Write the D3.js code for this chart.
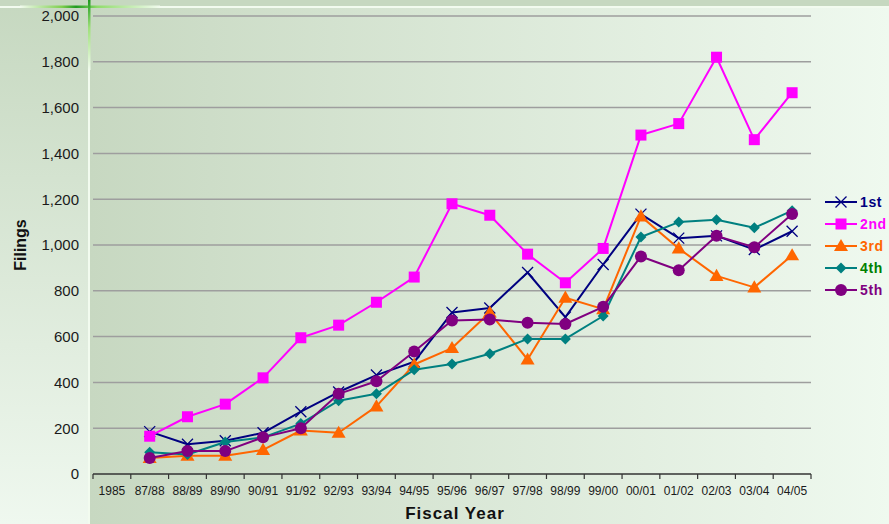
<!DOCTYPE html>
<html>
<head>
<meta charset="utf-8">
<script src="https://cdn.jsdelivr.net/npm/d3@7/dist/d3.min.js"></script>
<style>
  html, body { margin: 0; padding: 0; background: #eef8ee; }
  svg { display: block; font-family: Arial, "Liberation Sans", sans-serif; }
</style>
</head>
<body>
<svg id="chart" width="889" height="524"></svg>
<script>
// Fiscal years on the category axis (1985 has no filings recorded)
const years = ["1985", "87/88", "88/89", "89/90", "90/91", "91/92", "92/93", "93/94", "94/95",
  "95/96", "96/97", "97/98", "98/99", "99/00", "00/01", "01/02", "02/03", "03/04", "04/05"];

// Filings per circuit, one value per fiscal year
const first  = [null, 185, 130, 145, 180, 272, 358, 432, 490, 705, 725, 880, 685, 915, 1135, 1030, 1040, 980, 1060];
const second = [null, 165, 250, 305, 420, 595, 650, 750, 860, 1180, 1130, 960, 835, 985, 1480, 1530, 1820, 1460, 1665];
const third  = [null, 70, 80, 80, 105, 190, 180, 295, 478, 550, 705, 500, 770, 720, 1125, 985, 865, 815, 955];
const fourth = [null, 95, 85, 140, 160, 220, 320, 350, 455, 480, 525, 590, 590, 690, 1035, 1100, 1110, 1075, 1150];
const fifth  = [null, 70, 100, 100, 160, 200, 350, 405, 535, 670, 675, 660, 655, 730, 950, 890, 1040, 990, 1135];

const yTicks = [0, 200, 400, 600, 800, 1000, 1200, 1400, 1600, 1800, 2000];

const series = [
  { name: "1st", values: first,  color: "#000080", text: "#000080", marker: "x" },
  { name: "2nd", values: second, color: "#ff00ff", text: "#ff00ff", marker: "square" },
  { name: "3rd", values: third,  color: "#ff6600", text: "#ff6600", marker: "triangle" },
  { name: "4th", values: fourth, color: "#008080", text: "#008000", marker: "diamond" },
  { name: "5th", values: fifth,  color: "#800080", text: "#800080", marker: "circle" }
];

const W = 889, H = 524;
const svg = d3.select("#chart");
const defs = svg.append("defs");

// Backgrounds: vertical wash on the label strip, horizontal wash behind the plot
const gv = defs.append("linearGradient").attr("id", "stripGrad")
  .attr("x1", 0).attr("y1", 0).attr("x2", 0).attr("y2", 1);
gv.append("stop").attr("offset", "0%").attr("stop-color", "#c6d8c0");
gv.append("stop").attr("offset", "100%").attr("stop-color", "#eff8ef");

const gh = defs.append("linearGradient").attr("id", "plotGrad")
  .attr("x1", 0).attr("y1", 0).attr("x2", 1).attr("y2", 0);
gh.append("stop").attr("offset", "0%").attr("stop-color", "#c7d8c1");
gh.append("stop").attr("offset", "100%").attr("stop-color", "#eff9ef");

const gLineH = defs.append("linearGradient").attr("id", "glowH")
  .attr("x1", 0).attr("y1", 0).attr("x2", 1).attr("y2", 0);
gLineH.append("stop").attr("offset", "0%").attr("stop-color", "#f2fbef");
gLineH.append("stop").attr("offset", "30%").attr("stop-color", "#7fcf50");
gLineH.append("stop").attr("offset", "40%").attr("stop-color", "#1f9a1f");
gLineH.append("stop").attr("offset", "55%").attr("stop-color", "#8fdc6a");
gLineH.append("stop").attr("offset", "100%").attr("stop-color", "#f2fbef");

const gLineV = defs.append("linearGradient").attr("id", "glowV")
  .attr("x1", 0).attr("y1", 0).attr("x2", 0).attr("y2", 1);
gLineV.append("stop").attr("offset", "0%").attr("stop-color", "#1f9a1f");
gLineV.append("stop").attr("offset", "40%").attr("stop-color", "#9fe07a");
gLineV.append("stop").attr("offset", "100%").attr("stop-color", "#f2fbef");

svg.append("rect").attr("x", 0).attr("y", 0).attr("width", 89).attr("height", H).attr("fill", "url(#stripGrad)");
svg.append("rect").attr("x", 89).attr("y", 0).attr("width", W - 89).attr("height", H).attr("fill", "url(#plotGrad)");
svg.append("rect").attr("x", 0).attr("y", 0).attr("width", W).attr("height", 6).attr("fill", "#c6d8c0");

// Thin light frame lines with the green corner highlight
svg.append("rect").attr("x", 0).attr("y", 6).attr("width", W).attr("height", 2).attr("fill", "#f2fbef");
svg.append("rect").attr("x", 88).attr("y", 0).attr("width", 2).attr("height", H).attr("fill", "#f2fbef");
svg.append("rect").attr("x", 20).attr("y", 5.5).attr("width", 140).attr("height", 2.5).attr("fill", "url(#glowH)");
svg.append("rect").attr("x", 88).attr("y", 0).attr("width", 2.5).attr("height", 70).attr("fill", "url(#glowV)");

// Scales
const x = d3.scaleBand().domain(years).range([93, 811]).paddingInner(0).paddingOuter(0);
const y = d3.scaleLinear().domain([0, 2000]).range([474, 16]);
const cx = d => x(d) + x.bandwidth() / 2;

// Horizontal gridlines
svg.append("g").selectAll("line").data(yTicks.filter(t => t > 0)).join("line")
  .attr("x1", 93).attr("x2", 811)
  .attr("y1", d => y(d)).attr("y2", d => y(d))
  .attr("stroke", "#9e9e9e").attr("stroke-width", 1.5);

// Y tick labels
svg.append("g").selectAll("text").data(yTicks).join("text")
  .attr("x", 79).attr("y", d => y(d)).attr("dy", "0.36em")
  .attr("text-anchor", "end").attr("font-size", 15).attr("fill", "#1a1a1a")
  .text(d => d3.format(",")(d));

// X axis: baseline, boundary ticks and category labels
const xAxis = svg.append("g");
xAxis.append("line").attr("x1", 93).attr("x2", 811).attr("y1", y(0)).attr("y2", y(0))
  .attr("stroke", "#333").attr("stroke-width", 1.5);
const boundaries = years.map(d => x(d)).concat([x(years[years.length - 1]) + x.bandwidth()]);
xAxis.selectAll("line.tick").data(boundaries).join("line").attr("class", "tick")
  .attr("x1", d => d).attr("x2", d => d).attr("y1", y(0)).attr("y2", y(0) + 5)
  .attr("stroke", "#333").attr("stroke-width", 1.2);
xAxis.selectAll("text").data(years).join("text")
  .attr("x", d => cx(d)).attr("y", 495)
  .attr("text-anchor", "middle").attr("font-size", 12).attr("fill", "#1a1a1a")
  .text(d => d);

// Axis titles
svg.append("text").attr("x", 455).attr("y", 519).attr("text-anchor", "middle")
  .attr("font-size", 17).attr("font-weight", "bold").attr("letter-spacing", 1).attr("fill", "#111")
  .text("Fiscal Year");
svg.append("text").attr("transform", "translate(26,245) rotate(-90)").attr("text-anchor", "middle")
  .attr("font-size", 16).attr("font-weight", "bold").attr("fill", "#111")
  .text("Filings");

// Marker drawing helper
function drawMarker(g, type, color, px, py) {
  if (type === "x") {
    const s = 5.5;
    g.append("path").attr("d", `M${px - s},${py - s}L${px + s},${py + s}M${px - s},${py + s}L${px + s},${py - s}`)
      .attr("stroke", color).attr("stroke-width", 1.3).attr("fill", "none");
  } else if (type === "square") {
    g.append("rect").attr("x", px - 5.5).attr("y", py - 5.5).attr("width", 11).attr("height", 11).attr("fill", color);
  } else if (type === "triangle") {
    g.append("path").attr("d", d3.symbol(d3.symbolTriangle, 85)()).attr("transform", `translate(${px},${py + 1})`).attr("fill", color);
  } else if (type === "diamond") {
    g.append("path").attr("d", `M${px},${py - 5.5}L${px + 5.5},${py}L${px},${py + 5.5}L${px - 5.5},${py}Z`).attr("fill", color);
  } else if (type === "circle") {
    g.append("circle").attr("cx", px).attr("cy", py).attr("r", 6).attr("fill", color);
  }
}

// Series lines and markers
const line = d3.line().defined(d => d.v !== null).x(d => cx(d.k)).y(d => y(d.v));
series.forEach(s => {
  const pts = years.map((k, i) => ({ k, v: s.values[i] }));
  const g = svg.append("g");
  g.append("path").datum(pts).attr("d", line)
    .attr("fill", "none").attr("stroke", s.color).attr("stroke-width", 2).attr("stroke-linejoin", "round");
  pts.filter(p => p.v !== null).forEach(p => drawMarker(g, s.marker, s.color, cx(p.k), y(p.v)));
});

// Legend
const legend = svg.append("g");
series.forEach((s, i) => {
  const ly = 202 + i * 22;
  legend.append("line").attr("x1", 825).attr("x2", 857).attr("y1", ly).attr("y2", ly)
    .attr("stroke", s.color).attr("stroke-width", 2);
  drawMarker(legend, s.marker, s.color, 841, ly);
  legend.append("text").attr("x", 860).attr("y", ly).attr("dy", "0.36em")
    .attr("font-size", 14).attr("font-weight", "bold").attr("letter-spacing", 0.6).attr("fill", s.text)
    .text(s.name);
});
</script>
</body>
</html>
